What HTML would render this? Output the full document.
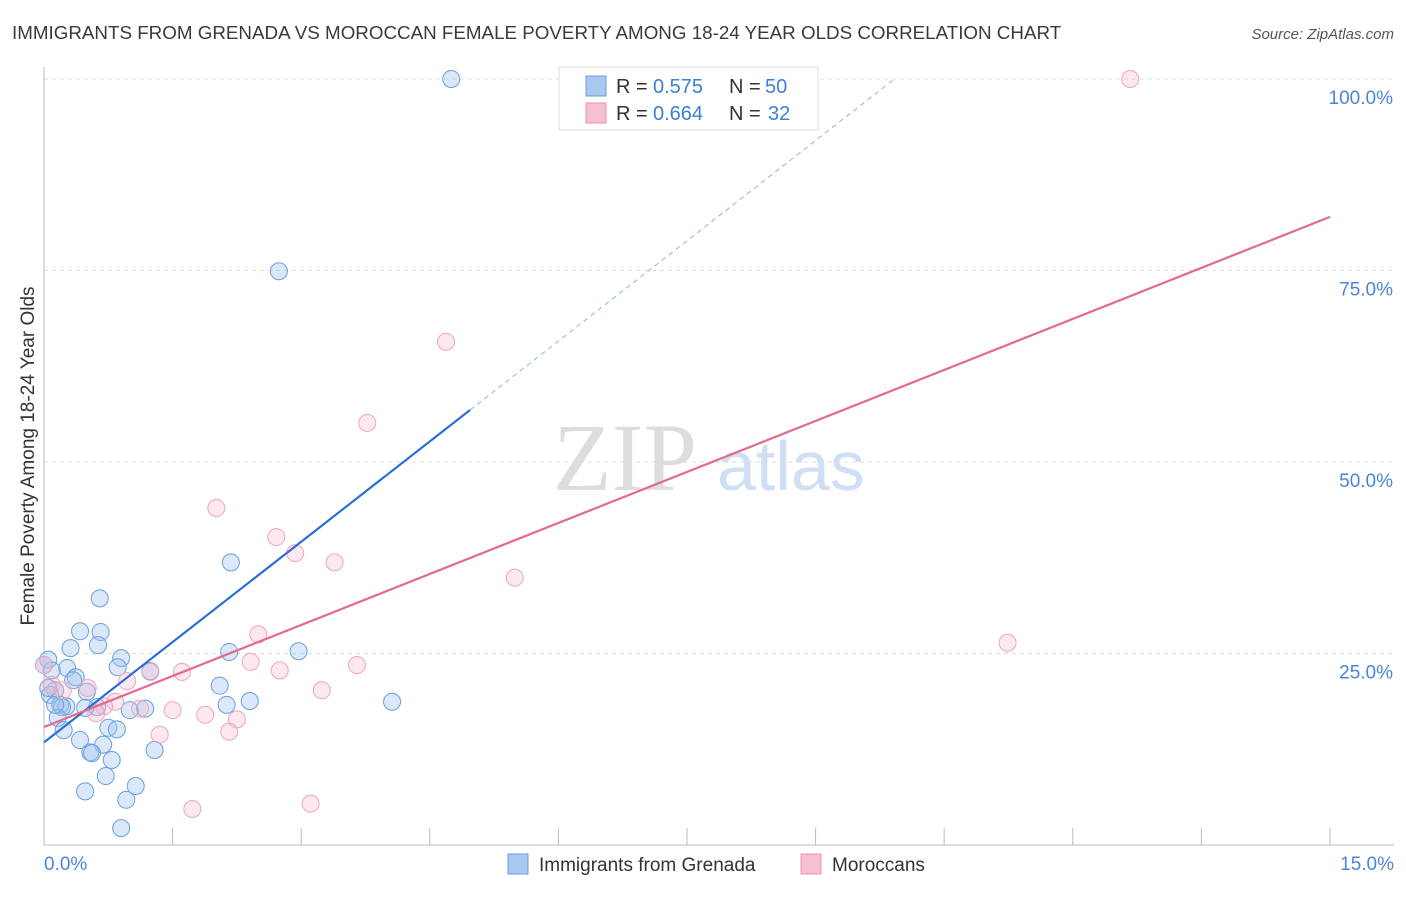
<!DOCTYPE html>
<html><head><meta charset="utf-8"><style>
body{margin:0;background:#fff;font-family:"Liberation Sans",sans-serif;}
</style></head><body>
<svg id="chart" width="1406" height="892" xmlns="http://www.w3.org/2000/svg" font-family="Liberation Sans, sans-serif">
<text x="12" y="39" font-size="18.8" fill="#3a3a3a">IMMIGRANTS FROM GRENADA VS MOROCCAN FEMALE POVERTY AMONG 18-24 YEAR OLDS CORRELATION CHART</text>
<text x="1394" y="39" font-size="15" fill="#555" text-anchor="end" font-style="italic">Source: ZipAtlas.com</text>
<g>
<text x="553" y="490" font-size="96" fill="#ddd" font-family="Liberation Serif, serif">ZIP</text>
<text x="717" y="490" font-size="70" fill="#cfe0f5">atlas</text>
</g>
<g id="grid"></g>
<g id="axes"></g>
<g id="marks"></g>
<text transform="translate(34,456) rotate(-90)" font-size="19" fill="#333" text-anchor="middle">Female Poverty Among 18-24 Year Olds</text>
<g>
<rect x="559" y="67" width="259" height="63" fill="#fff" stroke="#ddd"/>
<rect x="586" y="76" width="20" height="20" fill="#a8c8f0" stroke="#6a9ddb"/>
<rect x="586" y="103" width="20" height="20" fill="#f7c0d2" stroke="#e895b0"/>
<text x="616" y="93" font-size="20" fill="#333">R =</text>
<text x="653" y="93" font-size="20" fill="#3d7fd6">0.575</text>
<text x="729" y="93" font-size="20" fill="#333">N =</text>
<text x="765" y="93" font-size="20" fill="#3d7fd6">50</text>
<text x="616" y="120" font-size="20" fill="#333">R =</text>
<text x="653" y="120" font-size="20" fill="#3d7fd6">0.664</text>
<text x="729" y="120" font-size="20" fill="#333">N =</text>
<text x="768" y="120" font-size="20" fill="#3d7fd6">32</text>
</g>
<g>
<rect x="508" y="854" width="20" height="20" fill="#a8c8f0" stroke="#6a9ddb"/>
<text x="539" y="871" font-size="19" fill="#333">Immigrants from Grenada</text>
<rect x="801" y="854" width="20" height="20" fill="#f7c0d2" stroke="#e895b0"/>
<text x="832" y="871" font-size="19" fill="#333">Moroccans</text>
</g>
</svg>
<script>
const blueX=[4.75,2.74,2.18,0.65,0.42,0.66,0.63,0.31,0.90,2.16,2.97,0.05,0.86,0.27,0.09,1.24,0.37,0.34,2.05,0.13,0.50,0.07,2.40,0.19,0.26,0.21,2.13,0.62,0.48,1.00,1.18,4.06,0.16,0.23,0.75,0.85,0.42,0.69,0.54,0.56,1.29,0.79,0.72,1.07,0.48,0.96,0.90,0.0,0.05,0.13];
const blueY=[100.0,74.9,36.9,32.2,27.9,27.8,26.1,25.7,24.4,25.2,25.3,24.2,23.2,23.1,22.8,22.7,21.9,21.5,20.8,20.2,20.0,19.6,18.8,18.3,18.1,18.0,18.3,18.0,17.9,17.6,17.8,18.7,16.6,15.0,15.3,15.1,13.7,13.1,12.1,12.0,12.4,11.1,9.0,7.7,7.0,5.9,2.2,23.5,20.5,18.3];
const pinkX=[12.67,4.69,3.77,2.01,2.71,2.93,3.39,5.49,11.24,2.50,3.65,2.41,2.75,1.24,1.61,3.24,0.97,0.0,0.09,0.22,0.51,0.83,0.70,1.50,1.88,2.25,0.61,2.16,1.35,1.12,1.73,3.11];
const pinkY=[100.0,65.7,55.1,44.0,40.2,38.1,36.9,34.9,26.4,27.5,23.5,23.9,22.8,22.6,22.6,20.2,21.4,23.5,20.9,20.2,20.5,18.7,18.1,17.6,17.0,16.4,17.2,14.8,14.4,17.8,4.7,5.4];
const yTicks=[25,50,75,100];
const yTickLabels=["25.0%","50.0%","75.0%","100.0%"];
const xTicks=[0,1.5,3,4.5,6,7.5,9,10.5,12,13.5,15];
const blueTrend=[13.4,8.73];
const pinkTrend=[15.4,4.44];
const X=v=>44+v*85.73, Y=v=>845-v*7.66;
const NS="http://www.w3.org/2000/svg";
function mk(p,t,a){const e=document.createElementNS(NS,t);for(const k in a)e.setAttribute(k,a[k]);p.appendChild(e);return e;}
const grid=document.getElementById('grid'),axes=document.getElementById('axes'),marks=document.getElementById('marks');
yTicks.forEach((t,i)=>{
 const l=mk(grid,'line',{x1:44,x2:1394,y1:Y(t),y2:Y(t),stroke:'#ddd','stroke-dasharray':'4,4'});
 
 
 const tx=mk(axes,'text',{x:1393,y:Y(t)+25,'font-size':19,fill:'#4a86d6','text-anchor':'end'});
 tx.textContent=yTickLabels[i];
 
 
});
const ax=mk(axes,'line',{x1:44,x2:1394,y1:845,y2:845,stroke:'#bbb'});


const ay=mk(axes,'line',{x1:44,x2:44,y1:67,y2:845,stroke:'#bbb'});


xTicks.forEach(t=>{const l=mk(axes,'line',{x1:X(t),x2:X(t),y1:828,y2:845,stroke:'#bbb'});
 
 });
[[0,"0.0%",44,'start'],[15,"15.0%",1394,'end']].forEach(d=>{const t=mk(axes,'text',{x:d[2],y:870,'font-size':19,fill:'#4a86d6','text-anchor':d[3]});t.textContent=d[1];
 
 });
blueX.forEach((x,i)=>{const c=mk(marks,'circle',{cx:X(x),cy:Y(blueY[i]),r:8.5,fill:'rgba(160,195,240,0.38)',stroke:'#6a9fdd','stroke-width':1});
 
 });
pinkX.forEach((x,i)=>{const c=mk(marks,'circle',{cx:X(x),cy:Y(pinkY[i]),r:8.5,fill:'rgba(247,185,205,0.32)',stroke:'#eea5bd','stroke-width':1});
 
 });
const bEnd=4.97, bDash=(100-blueTrend[0])/blueTrend[1];
const bl=mk(marks,'line',{x1:X(0),y1:Y(blueTrend[0]),x2:X(bEnd),y2:Y(blueTrend[0]+blueTrend[1]*bEnd),stroke:'#2b6fd6','stroke-width':2.2});


const bd=mk(marks,'line',{x1:X(bEnd),y1:Y(blueTrend[0]+blueTrend[1]*bEnd),x2:X(bDash),y2:Y(100),stroke:'#8fb3e6','stroke-width':1,'stroke-dasharray':'5,4'});


const pl=mk(marks,'line',{x1:X(0),y1:Y(pinkTrend[0]),x2:X(15),y2:Y(pinkTrend[0]+pinkTrend[1]*15),stroke:'#e5688f','stroke-width':2.2});


</script>
</body></html>
